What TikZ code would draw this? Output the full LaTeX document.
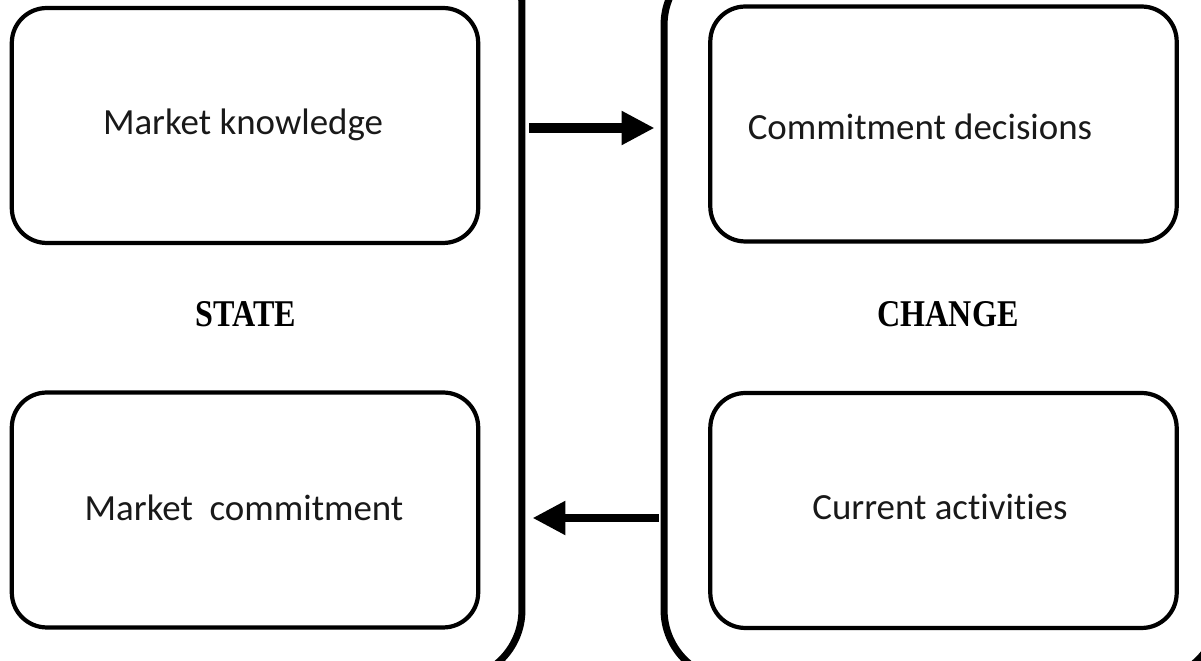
\documentclass[tikz,border=0pt]{standalone}
\usepackage{fontspec}
\setmainfont[Ligatures=NoCommon]{Carlito}
\newfontfamily\headfont[FakeStretch=0.85]{Liberation Serif}
\usetikzlibrary{arrows.meta}

\begin{document}
\begin{tikzpicture}[x=0.02cm,y=-0.02cm,
  box/.style={draw=black, line width=2.4pt, rounded corners=0.7cm, minimum width=9.33cm, minimum height=4.7cm, inner sep=0pt},
  frame/.style={draw=black, line width=4pt, rounded corners=1.4cm, inner sep=0pt},
  flow/.style={line width=5.5pt, -{Triangle[length=0.66cm, width=0.64cm]}},
  txt/.style={anchor=base, text=black!90, font=\fontsize{21}{25}\selectfont},
  head/.style={anchor=base, font=\headfont\bfseries\fontsize{21.5}{26}\selectfont}]
\useasboundingbox (0,0) rectangle (1201,661);
% the two large panels
\node[frame, minimum width=11.08cm, minimum height=14.9cm] (state) at (245,307.5) {};
\node[frame, minimum width=11.1cm, minimum height=14.5cm] (change) at (941.5,317.5) {};
% boxes
\node[box] (know) at (245,125.5) {};
\node[box] (commit) at (245,510) {};
\node[box] (decide) at (943.5,124) {};
\node[box] (current) at (943.5,510.5) {};
\node[txt] (knowtext) at (243,135) {Market knowledge};
\node[txt] (committext) at (244,521) {Market\ \ commitment};
\node[txt] (decidetext) at (920,140) {Commitment decisions};
\node[txt] (currenttext) at (940,520) {Current activities};
\node[head] (statetext) at (246,327) {STATE};
\node[head] (changetext) at (948,327) {CHANGE};
% arrows between the panels
\draw[flow, shorten <=0.08cm, shorten >=0.12cm] (state.east |- 0,128) -- (change.west |- 0,128);
\draw[flow, line width=5pt, shorten <=0.04cm, shorten >=0.14cm] (change.west |- 0,518) -- (state.east |- 0,518);
\end{tikzpicture}
\end{document}
